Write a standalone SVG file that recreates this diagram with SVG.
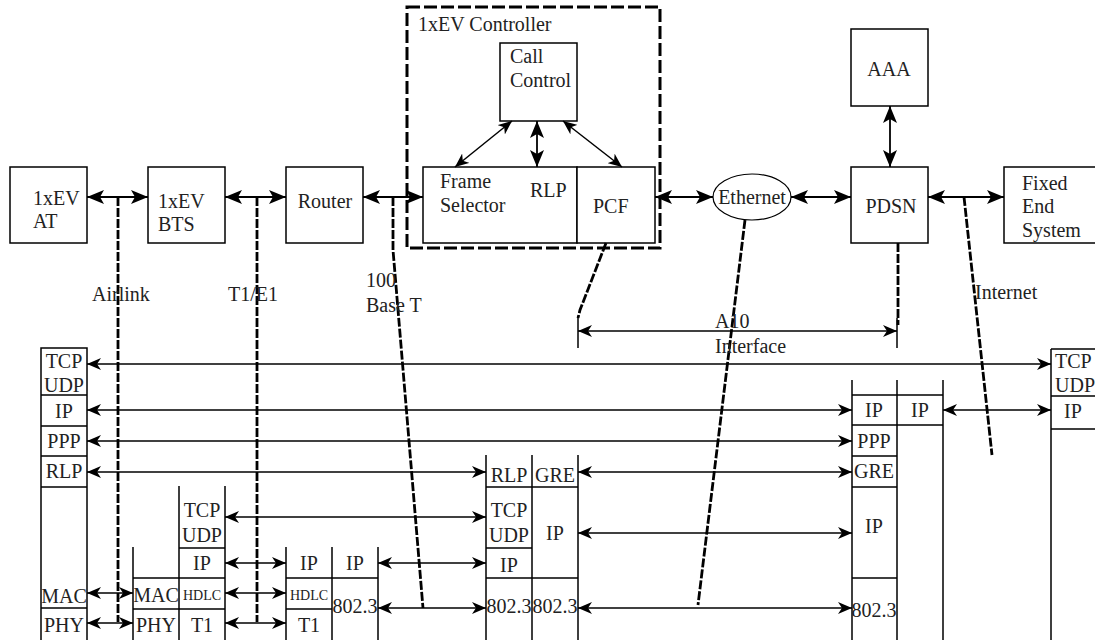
<svg xmlns="http://www.w3.org/2000/svg" width="1095" height="640" viewBox="0 0 1095 640">
<defs>
<style>
.box{fill:#fff;stroke:#000;stroke-width:1.5}
.ln{stroke:#000;stroke-width:1.5;fill:none}
.t{font-family:"Liberation Serif","Times New Roman",serif;font-size:20px;fill:#222}
.s{font-size:14px}
.m{text-anchor:middle}
.dash{stroke:#000;stroke-width:2.8;stroke-dasharray:9 2;fill:none}
.ctl{stroke:#000;stroke-width:3;stroke-dasharray:13 4;fill:none}
.big{stroke:#000;stroke-width:1.8;fill:none;marker-start:url(#ab);marker-end:url(#ab)}
.sm{stroke:#000;stroke-width:1.5;fill:none;marker-start:url(#as);marker-end:url(#as)}
</style>
<marker id="ab" viewBox="0 0 17 14" refX="17" refY="7" markerWidth="17" markerHeight="14" markerUnits="userSpaceOnUse" orient="auto-start-reverse"><path d="M0,0 L17,7 L0,14 L4,7 Z" fill="#000"/></marker>
<marker id="as" viewBox="0 0 14 12" refX="14" refY="6" markerWidth="14" markerHeight="12" markerUnits="userSpaceOnUse" orient="auto-start-reverse"><path d="M0,0 L14,6 L0,12 L4,6 Z" fill="#000"/></marker>
</defs>
<rect width="1095" height="640" fill="#fff"/>

<g id="n-at"><rect class="box" x="10" y="167" width="77" height="76"/><text class="t" x="33" y="205">1xEV</text><text class="t" x="33" y="228">AT</text></g>
<g id="n-bts"><rect class="box" x="148" y="167" width="77" height="76"/><text class="t" x="158" y="208">1xEV</text><text class="t" x="158" y="231">BTS</text></g>
<g id="n-router"><rect class="box" x="286" y="167" width="77" height="76"/><text class="t m" x="325" y="208">Router</text></g>
<g id="n-controller"><rect class="ctl" x="407" y="7" width="253" height="241"/><text class="t" x="418" y="31">1xEV Controller</text></g>
<g id="n-callcontrol"><rect class="box" x="500" y="43" width="77" height="78"/><text class="t" x="510" y="63">Call</text><text class="t" x="510" y="87">Control</text></g>
<g id="n-frame"><rect class="box" x="423" y="167" width="154" height="76"/><text class="t" x="440" y="188">Frame</text><text class="t" x="440" y="212">Selector</text><text class="t" x="530" y="197">RLP</text></g>
<g id="n-pcf"><rect class="box" x="577" y="167" width="78" height="76"/><text class="t" x="593" y="213">PCF</text></g>
<g id="n-ethernet"><ellipse cx="752" cy="197" rx="39" ry="23" fill="#fff" stroke="#000" stroke-width="1.2"/><text class="t m" x="752" y="204">Ethernet</text></g>
<g id="n-aaa"><rect class="box" x="851" y="29" width="77" height="77"/><text class="t m" x="889" y="76">AAA</text></g>
<g id="n-pdsn"><rect class="box" x="851" y="167" width="77" height="76"/><text class="t m" x="891" y="213">PDSN</text></g>
<g id="n-fes"><rect class="box" x="1004" y="167" width="100" height="76"/><text class="t" x="1022" y="190">Fixed</text><text class="t" x="1022" y="213">End</text><text class="t" x="1022" y="237">System</text></g>

<g id="s-at">
<rect class="box" x="41" y="348" width="46" height="300"/>
<path class="ln" d="M41,395H87M41,426H87M41,456H87M41,487H87M41,608H87"/>
<text class="t m" x="64" y="368">TCP</text><text class="t m" x="64" y="392">UDP</text>
<text class="t m" x="64" y="418">IP</text><text class="t m" x="64" y="448">PPP</text>
<text class="t m" x="64" y="478">RLP</text><text class="t m" x="64" y="603">MAC</text><text class="t m" x="64" y="632">PHY</text>
</g>
<g id="s-bts-mac">
<path class="ln" d="M133,547V640M133,578H179M133,609H179"/>
<text class="t m" x="156" y="602">MAC</text><text class="t m" x="156" y="632">PHY</text>
</g>
<g id="s-bts-hdlc">
<path class="ln" d="M179,486V640M225,486V640M179,548H225M179,578H225M179,609H225"/>
<text class="t m" x="202" y="517">TCP</text><text class="t m" x="202" y="542">UDP</text>
<text class="t m" x="202" y="570">IP</text><text class="t s m" x="202" y="600">HDLC</text><text class="t m" x="202" y="632">T1</text>
</g>
<g id="s-router">
<path class="ln" d="M286,547V640M332,547V640M378,547V640M286,578H378M286,609H332"/>
<text class="t m" x="309" y="570">IP</text><text class="t m" x="355" y="570">IP</text>
<text class="t s m" x="309" y="600">HDLC</text><text class="t m" x="309" y="632">T1</text><text class="t m" x="355" y="613">802.3</text>
</g>
<g id="s-ctrl">
<path class="ln" d="M486,455V640M532,455V640M578,455V640M486,487H578M486,548H532M486,578H578"/>
<text class="t m" x="509" y="482">RLP</text><text class="t m" x="555" y="482">GRE</text>
<text class="t m" x="509" y="517">TCP</text><text class="t m" x="509" y="542">UDP</text>
<text class="t m" x="509" y="572">IP</text><text class="t m" x="555" y="540">IP</text>
<text class="t m" x="509" y="613">802.3</text><text class="t m" x="555" y="613">802.3</text>
</g>
<g id="s-pdsn">
<path class="ln" d="M852,380V640M897,380V640M943,380V640M852,395H943M852,425H943M852,456H897M852,487H897M852,578H897"/>
<text class="t m" x="874" y="417">IP</text><text class="t m" x="920" y="417">IP</text>
<text class="t m" x="874" y="448">PPP</text><text class="t m" x="874" y="478">GRE</text>
<text class="t m" x="874" y="533">IP</text><text class="t m" x="874" y="617">802.3</text>
</g>
<g id="s-fes">
<path class="ln" d="M1051,349V640M1051,349H1095M1051,396H1095M1051,429H1095"/>
<text class="t" x="1055" y="368">TCP</text><text class="t" x="1055" y="392">UDP</text><text class="t" x="1064" y="418">IP</text>
</g>

<g id="connectors">
<path class="big" d="M87,197H148"/>
<path class="big" d="M225,197H286"/>
<path class="big" d="M363,197H423"/>
<path class="big" d="M655,197H713"/>
<path class="big" d="M791,197H851"/>
<path class="big" d="M928,197H1004"/>
<path class="big" d="M890,106V167"/>
<path class="sm" d="M512,121L455,167"/>
<path class="big" d="M537,121V167"/>
<path class="sm" d="M563,121L622,167"/>

<path class="sm" d="M87,364H1051"/>
<path class="sm" d="M87,410H852"/>
<path class="sm" d="M87,441H852"/>
<path class="sm" d="M87,472H486"/>
<path class="sm" d="M578,472H852"/>
<path class="sm" d="M225,517H486"/>
<path class="sm" d="M578,533H852"/>
<path class="sm" d="M225,563H286"/>
<path class="sm" d="M378,563H486"/>
<path class="sm" d="M87,593H133"/>
<path class="sm" d="M225,593H286"/>
<path class="sm" d="M87,623H133"/>
<path class="sm" d="M225,623H286"/>
<path class="sm" d="M378,608H486"/>
<path class="sm" d="M578,608H852"/>
<path class="sm" d="M943,410H1051"/>
<path class="sm" d="M578,331H897"/>

<path class="dash" d="M118,197V622"/>
<path class="dash" d="M257,197V622"/>
<path class="dash" d="M393,197V250L423,608"/>
<path class="dash" d="M745,220L698,605"/>
<path class="dash" d="M964,197L992,455"/>
<path class="dash" d="M606,243L580,310L578,318"/>
<path class="ln" d="M578,316V348"/>
<path class="dash" d="M898,243V325"/>
<path class="ln" d="M897,318V348"/>
</g>

<g id="labels">
<text class="t" x="92" y="301">Airlink</text>
<text class="t" x="228" y="301">T1/E1</text>
<text class="t" x="366" y="287">100</text>
<text class="t" x="366" y="312">Base T</text>
<text class="t" x="715" y="328">A10</text>
<text class="t" x="715" y="353">Interface</text>
<text class="t" x="975" y="299">Internet</text>
</g>
</svg>
